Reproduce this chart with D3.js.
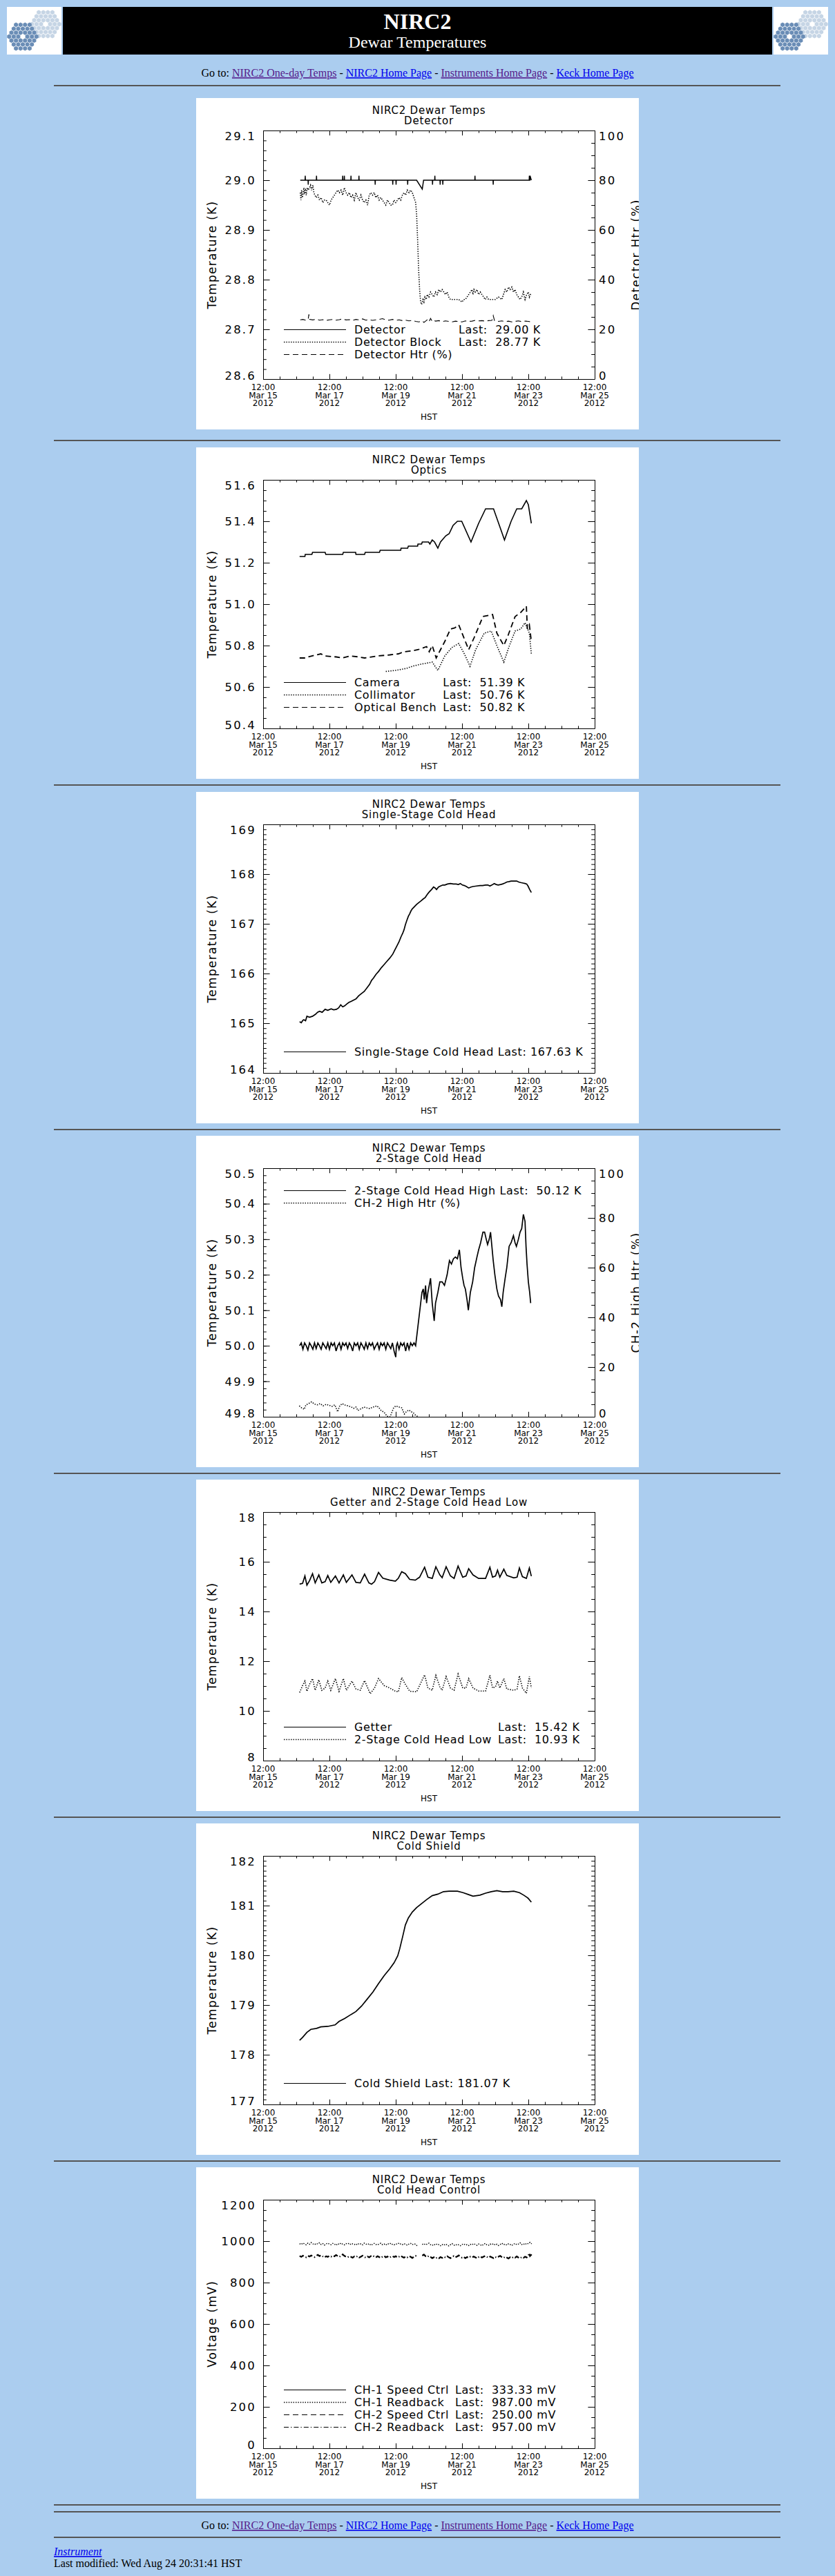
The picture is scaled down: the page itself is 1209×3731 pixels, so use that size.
<!DOCTYPE html>
<html><head><meta charset="utf-8">
<script src="https://cdn.jsdelivr.net/npm/d3@7"></script>
<style>html,body{margin:0;padding:0;background:#abcdef;}svg{display:block}</style>
</head><body>
<svg id="page" width="1209" height="3731"></svg>
<script>
// ---------------- DATA ----------------
// time in days after 12:00 Mar 15 2012 (HST)
const xMajorDays = [0, 2, 4, 6, 8, 10];
const xTickTimes = ["12:00","12:00","12:00","12:00","12:00","12:00"];
const xTickDates = ["Mar 15","Mar 17","Mar 19","Mar 21","Mar 23","Mar 25"];
const xTickYears = ["2012","2012","2012","2012","2012","2012"];
const chartSubtitles = ["Detector","Optics","Single-Stage Cold Head","2-Stage Cold Head","Getter and 2-Stage Cold Head Low","Cold Shield","Cold Head Control"];
const navLinks = ["NIRC2 One-day Temps","NIRC2 Home Page","Instruments Home Page","Keck Home Page"];

// Chart 1: Detector
const detector = [[1.12,29.0],[1.265,29.0],[1.27,29.009],[1.275,29.0],[1.355,29.0],[1.36,28.991],[1.365,29.0],[1.605,29.0],[1.61,29.009],[1.615,29.0],[2.395,29.0],[2.40,29.009],[2.405,29.0],[2.445,29.0],[2.45,29.009],[2.455,29.0],[2.645,29.0],[2.65,29.009],[2.655,29.0],[2.885,29.0],[2.89,29.009],[2.895,29.0],[3.375,29.0],[3.38,28.991],[3.385,29.0],[3.905,29.0],[3.91,28.991],[3.915,29.0],[4.005,29.0],[4.01,28.991],[4.015,29.0],[4.355,29.0],[4.36,28.991],[4.365,29.0],[4.63,29.0],[4.80,28.982],[4.84,29.0],[5.105,29.0],[5.11,28.991],[5.115,29.0],[5.175,29.0],[5.18,29.009],[5.185,29.0],[5.335,29.0],[5.34,28.991],[5.345,29.0],[5.415,29.0],[5.42,28.991],[5.425,29.0],[6.385,29.0],[6.39,29.009],[6.395,29.0],[6.935,29.0],[6.94,28.991],[6.945,29.0],[8.025,29.0],[8.03,29.009],[8.035,29.0],[8.045,29.0],[8.05,29.009],[8.09,29.0]];
const detectorBlock = [[1.12,28.975],[1.14,28.96],[1.16,28.98],[1.18,28.965],[1.2,28.97],[1.23,28.985],[1.25,28.975],[1.28,28.98],[1.3,28.97],[1.33,28.985],[1.36,28.98],[1.4,28.985],[1.43,28.99],[1.46,28.98],[1.5,28.99],[1.53,28.975],[1.56,28.97],[1.6,28.965],[1.65,28.97],[1.7,28.96],[1.75,28.965],[1.8,28.955],[1.85,28.96],[1.9,28.96],[1.95,28.955],[2.0,28.95],[2.05,28.96],[2.1,28.965],[2.15,28.97],[2.2,28.975],[2.25,28.98],[2.3,28.975],[2.35,28.98],[2.4,28.97],[2.45,28.985],[2.5,28.975],[2.55,28.97],[2.6,28.975],[2.65,28.965],[2.7,28.97],[2.75,28.96],[2.8,28.975],[2.85,28.965],[2.9,28.96],[2.95,28.97],[3.0,28.96],[3.05,28.955],[3.1,28.96],[3.15,28.95],[3.2,28.97],[3.25,28.975],[3.3,28.97],[3.35,28.975],[3.4,28.965],[3.45,28.97],[3.5,28.96],[3.55,28.965],[3.6,28.96],[3.65,28.955],[3.7,28.95],[3.75,28.96],[3.8,28.955],[3.85,28.95],[3.9,28.95],[3.95,28.96],[4.0,28.955],[4.05,28.96],[4.1,28.965],[4.15,28.96],[4.2,28.97],[4.25,28.975],[4.3,28.97],[4.35,28.98],[4.4,28.975],[4.45,28.98],[4.5,28.975],[4.55,28.965],[4.6,28.955],[4.63,28.93],[4.66,28.88],[4.69,28.82],[4.72,28.78],[4.75,28.755],[4.78,28.75],[4.82,28.76],[4.85,28.755],[4.88,28.765],[4.92,28.76],[4.95,28.77],[5.0,28.765],[5.05,28.775],[5.1,28.77],[5.15,28.765],[5.2,28.775],[5.25,28.77],[5.3,28.78],[5.35,28.775],[5.4,28.78],[5.45,28.775],[5.5,28.77],[5.55,28.775],[5.6,28.765],[5.65,28.76],[5.7,28.76],[5.8,28.76],[5.9,28.76],[6.0,28.755],[6.05,28.76],[6.1,28.76],[6.15,28.765],[6.2,28.77],[6.25,28.775],[6.3,28.78],[6.33,28.77],[6.36,28.78],[6.4,28.775],[6.45,28.78],[6.5,28.77],[6.55,28.775],[6.6,28.77],[6.65,28.765],[6.7,28.76],[6.75,28.765],[6.8,28.76],[6.9,28.76],[7.0,28.76],[7.1,28.765],[7.2,28.76],[7.25,28.77],[7.3,28.78],[7.35,28.775],[7.4,28.785],[7.45,28.78],[7.5,28.785],[7.55,28.775],[7.6,28.78],[7.65,28.77],[7.7,28.765],[7.75,28.76],[7.8,28.765],[7.85,28.775],[7.9,28.76],[7.95,28.77],[8.0,28.775],[8.03,28.765],[8.06,28.77],[8.09,28.77]];
const detectorHtr = [[1.12,23.8],[1.2,24.0],[1.3,23.6],[1.36,24.2],[1.38,26.0],[1.40,24.0],[1.5,23.8],[1.6,24.1],[1.7,23.7],[1.8,23.9],[1.9,23.6],[2.0,23.8],[2.1,24.0],[2.2,23.7],[2.3,23.9],[2.4,24.2],[2.5,23.8],[2.6,23.9],[2.7,23.6],[2.8,24.0],[2.9,23.8],[3.0,24.2],[3.1,23.7],[3.2,23.9],[3.3,23.6],[3.4,23.8],[3.5,24.0],[3.6,24.3],[3.7,23.8],[3.8,23.7],[3.9,24.0],[4.0,23.6],[4.1,23.8],[4.2,23.5],[4.3,23.7],[4.4,23.4],[4.5,23.6],[4.6,23.2],[4.7,23.0],[4.8,23.4],[4.85,22.8],[4.9,23.3],[4.95,23.8],[5.0,23.0],[5.05,24.4],[5.1,23.2],[5.15,23.6],[5.2,23.3],[5.3,23.5],[5.4,23.1],[5.5,23.4],[5.6,23.2],[5.7,23.0],[5.8,23.3],[5.9,23.1],[6.0,23.0],[6.1,23.4],[6.2,23.2],[6.3,23.3],[6.4,23.6],[6.5,23.4],[6.6,23.5],[6.7,23.3],[6.8,23.5],[6.9,23.6],[6.94,25.5],[6.98,23.5],[7.1,23.2],[7.2,23.4],[7.3,23.1],[7.4,23.3],[7.5,23.0],[7.6,23.2],[7.7,23.4],[7.8,23.1],[7.9,23.3],[8.0,23.2],[8.09,23.0]];

// Chart 2: Optics
const camera = [[1.10,51.23],[1.26,51.23],[1.27,51.24],[1.47,51.24],[1.49,51.25],[1.87,51.25],[1.89,51.24],[2.40,51.24],[2.42,51.25],[2.79,51.25],[2.80,51.24],[3.06,51.24],[3.08,51.25],[3.51,51.25],[3.53,51.26],[4.15,51.26],[4.16,51.27],[4.36,51.27],[4.38,51.28],[4.66,51.28],[4.67,51.29],[4.78,51.29],[4.80,51.30],[4.99,51.30],[5.03,51.29],[5.10,51.31],[5.17,51.30],[5.27,51.27],[5.35,51.30],[5.51,51.33],[5.61,51.34],[5.73,51.38],[5.86,51.40],[5.99,51.40],[6.27,51.30],[6.50,51.39],[6.71,51.46],[6.95,51.46],[7.28,51.31],[7.48,51.40],[7.65,51.46],[7.80,51.46],[7.94,51.50],[8.00,51.48],[8.09,51.39]];
const collimator = [[3.70,50.675],[3.99,50.68],[4.33,50.69],[4.50,50.70],[4.76,50.71],[5.10,50.72],[5.27,50.68],[5.48,50.75],[5.69,50.79],[5.90,50.81],[6.07,50.76],[6.24,50.70],[6.41,50.78],[6.67,50.86],[6.88,50.87],[7.05,50.80],[7.26,50.72],[7.43,50.80],[7.60,50.87],[7.77,50.88],[7.90,50.91],[8.03,50.86],[8.09,50.76]];
const opticalBench = [[1.10,50.74],[1.27,50.74],[1.36,50.745],[1.61,50.755],[1.74,50.76],[1.87,50.75],[2.21,50.745],[2.38,50.74],[2.63,50.75],[2.89,50.745],[3.06,50.74],[3.48,50.75],[3.82,50.755],[4.08,50.76],[4.25,50.77],[4.50,50.775],[4.67,50.78],[4.93,50.795],[5.01,50.77],[5.10,50.80],[5.22,50.74],[5.35,50.78],[5.48,50.82],[5.65,50.88],[5.78,50.885],[5.90,50.90],[6.20,50.78],[6.37,50.84],[6.63,50.94],[6.92,50.95],[7.05,50.86],[7.26,50.80],[7.39,50.85],[7.60,50.94],[7.77,50.96],[7.94,50.99],[7.97,50.88],[8.03,50.90],[8.09,50.82]];

// Chart 3: Single-stage cold head
const singleStage = [[1.10,165.03],[1.15,165.01],[1.20,165.06],[1.23,165.07],[1.28,165.05],[1.32,165.14],[1.40,165.12],[1.49,165.14],[1.58,165.18],[1.64,165.22],[1.70,165.24],[1.78,165.22],[1.87,165.28],[1.95,165.26],[2.05,165.29],[2.13,165.27],[2.21,165.28],[2.28,165.31],[2.34,165.37],[2.40,165.33],[2.46,165.35],[2.53,165.39],[2.59,165.42],[2.66,165.44],[2.74,165.47],[2.80,165.49],[2.88,165.55],[2.97,165.6],[3.05,165.64],[3.14,165.72],[3.21,165.78],[3.27,165.86],[3.33,165.91],[3.40,165.98],[3.48,166.04],[3.57,166.12],[3.65,166.18],[3.74,166.25],[3.82,166.31],[3.91,166.39],[3.97,166.47],[4.04,166.56],[4.10,166.64],[4.16,166.74],[4.21,166.81],[4.25,166.88],[4.29,166.98],[4.33,167.06],[4.38,167.15],[4.42,167.2],[4.46,167.26],[4.50,167.3],[4.57,167.35],[4.63,167.39],[4.70,167.43],[4.76,167.46],[4.83,167.5],[4.89,167.53],[4.95,167.59],[5.01,167.64],[5.08,167.69],[5.14,167.74],[5.19,167.72],[5.23,167.69],[5.29,167.74],[5.35,167.76],[5.42,167.78],[5.48,167.78],[5.56,167.8],[5.65,167.81],[5.74,167.8],[5.82,167.8],[5.89,167.79],[5.95,167.81],[6.01,167.78],[6.07,167.77],[6.13,167.75],[6.20,167.72],[6.27,167.74],[6.33,167.75],[6.44,167.76],[6.54,167.77],[6.62,167.77],[6.71,167.78],[6.78,167.78],[6.84,167.76],[6.90,167.78],[6.97,167.81],[7.03,167.79],[7.09,167.78],[7.16,167.79],[7.22,167.8],[7.29,167.82],[7.35,167.84],[7.42,167.85],[7.48,167.86],[7.56,167.86],[7.65,167.86],[7.71,167.84],[7.77,167.83],[7.84,167.82],[7.90,167.81],[7.95,167.80],[7.99,167.76],[8.04,167.69],[8.09,167.63]];

// Chart 4: 2-stage cold head high + heater
const twoStageHigh = [[1.10,50.0],[1.15,50.008],[1.20,49.99],[1.25,50.008],[1.30,50.0],[1.35,49.988],[1.40,50.008],[1.45,50.0],[1.50,49.99],[1.55,50.008],[1.60,49.992],[1.65,50.008],[1.70,50.0],[1.75,49.99],[1.80,50.008],[1.85,50.0],[1.90,49.992],[1.95,50.008],[2.00,49.99],[2.05,50.008],[2.10,50.0],[2.15,50.008],[2.20,49.985],[2.25,50.0],[2.30,50.008],[2.35,49.99],[2.40,50.008],[2.45,50.0],[2.50,50.008],[2.55,49.992],[2.60,50.008],[2.65,50.0],[2.70,49.985],[2.75,50.008],[2.80,50.0],[2.85,50.008],[2.90,49.99],[2.95,50.008],[3.00,50.0],[3.05,49.99],[3.10,50.008],[3.15,49.992],[3.20,50.008],[3.25,50.0],[3.30,50.008],[3.35,49.99],[3.40,50.0],[3.45,50.008],[3.50,49.99],[3.55,50.008],[3.60,50.0],[3.65,50.008],[3.70,49.99],[3.75,50.008],[3.80,50.0],[3.85,49.992],[3.90,50.008],[3.95,49.985],[4.00,49.968],[4.02,50.0],[4.05,50.008],[4.10,49.99],[4.15,50.008],[4.20,50.0],[4.25,50.008],[4.30,49.985],[4.35,50.008],[4.40,49.99],[4.45,50.008],[4.50,50.0],[4.55,50.008],[4.60,50.0],[4.79,50.15],[4.83,50.16],[4.86,50.13],[4.90,50.17],[4.93,50.12],[4.97,50.15],[5.05,50.19],[5.10,50.12],[5.16,50.07],[5.20,50.12],[5.27,50.15],[5.33,50.18],[5.40,50.18],[5.47,50.17],[5.55,50.20],[5.62,50.24],[5.68,50.23],[5.74,50.245],[5.80,50.25],[5.86,50.245],[5.92,50.27],[5.97,50.22],[6.02,50.19],[6.06,50.17],[6.10,50.16],[6.15,50.13],[6.19,50.10],[6.25,50.15],[6.32,50.18],[6.38,50.22],[6.45,50.25],[6.50,50.27],[6.56,50.29],[6.63,50.32],[6.68,50.32],[6.73,50.30],[6.77,50.285],[6.82,50.30],[6.86,50.32],[6.90,50.28],[6.94,50.24],[6.99,50.20],[7.05,50.16],[7.10,50.14],[7.16,50.13],[7.20,50.11],[7.24,50.15],[7.30,50.19],[7.35,50.22],[7.42,50.28],[7.48,50.29],[7.55,50.31],[7.60,50.29],[7.64,50.28],[7.70,50.30],[7.75,50.32],[7.80,50.33],[7.85,50.37],[7.90,50.35],[7.93,50.28],[7.96,50.23],[8.00,50.18],[8.04,50.15],[8.07,50.12]];
const ch2HighHtr = [[1.09,4.4],[1.16,3.6],[1.24,3.0],[1.29,4.8],[1.36,5.2],[1.46,6.0],[1.55,5.1],[1.64,4.8],[1.72,5.3],[1.81,4.4],[1.90,5.0],[1.99,4.6],[2.08,4.2],[2.16,4.8],[2.25,2.0],[2.30,4.1],[2.38,5.3],[2.47,4.7],[2.56,4.4],[2.65,4.0],[2.73,3.4],[2.80,3.9],[2.86,2.5],[2.95,3.2],[3.04,3.9],[3.12,3.6],[3.21,3.3],[3.30,3.8],[3.43,4.4],[3.50,3.5],[3.56,2.5],[3.65,1.8],[3.74,0.2],[3.83,0.0],[3.93,3.4],[4.00,4.4],[4.08,4.0],[4.18,3.6],[4.26,1.1],[4.33,2.2],[4.40,2.7],[4.47,2.0],[4.53,1.6],[4.61,0.4],[4.70,0.0]];

// Chart 5: Getter and 2-stage cold head low
const getter = [[1.10,15.1],[1.19,15.13],[1.26,15.43],[1.32,15.06],[1.40,15.24],[1.49,15.52],[1.57,15.15],[1.68,15.47],[1.77,15.15],[1.87,15.2],[1.95,15.45],[2.04,15.17],[2.18,15.43],[2.29,15.15],[2.42,15.47],[2.51,15.17],[2.68,15.47],[2.80,15.17],[2.93,15.15],[3.06,15.5],[3.19,15.15],[3.27,15.1],[3.36,15.2],[3.48,15.57],[3.61,15.34],[3.82,15.26],[3.99,15.22],[4.08,15.34],[4.18,15.6],[4.29,15.52],[4.42,15.29],[4.59,15.26],[4.72,15.38],[4.87,15.78],[4.97,15.38],[5.10,15.33],[5.21,15.8],[5.33,15.47],[5.40,15.36],[5.52,15.8],[5.65,15.43],[5.76,15.33],[5.88,15.83],[6.02,15.38],[6.12,15.43],[6.20,15.72],[6.33,15.47],[6.50,15.33],[6.71,15.33],[6.84,15.78],[6.92,15.38],[7.01,15.43],[7.07,15.66],[7.14,15.38],[7.26,15.7],[7.35,15.45],[7.56,15.35],[7.66,15.38],[7.73,15.75],[7.82,15.4],[7.94,15.33],[8.03,15.75],[8.09,15.42]];
const twoStageLow = [[1.10,10.74],[1.19,11.02],[1.26,11.2],[1.32,10.79],[1.40,11.07],[1.49,11.3],[1.57,10.83],[1.68,11.25],[1.77,10.83],[1.87,10.92],[1.95,11.2],[2.04,10.83],[2.18,11.3],[2.29,10.79],[2.42,11.3],[2.51,10.83],[2.68,11.2],[2.80,10.88],[2.93,10.83],[3.06,11.22],[3.23,10.69],[3.36,10.92],[3.48,11.3],[3.65,11.02],[3.82,10.92],[3.99,10.79],[4.08,10.77],[4.18,11.34],[4.29,11.07],[4.42,10.79],[4.63,10.77],[4.87,11.45],[4.97,10.92],[5.10,10.83],[5.21,11.43],[5.33,10.97],[5.40,10.83],[5.52,11.38],[5.65,10.92],[5.76,10.83],[5.88,11.48],[6.02,10.92],[6.12,10.92],[6.20,11.3],[6.33,10.92],[6.50,10.8],[6.71,10.8],[6.84,11.43],[6.92,10.92],[7.01,10.97],[7.07,11.2],[7.14,10.92],[7.26,11.3],[7.35,10.88],[7.56,10.83],[7.66,10.88],[7.73,11.41],[7.82,10.92],[7.94,10.71],[8.03,11.38],[8.09,10.93]];

// Chart 6: Cold shield
const coldShield = [[1.10,178.29],[1.19,178.35],[1.32,178.45],[1.44,178.51],[1.61,178.53],[1.74,178.56],[1.95,178.57],[2.17,178.6],[2.29,178.67],[2.46,178.73],[2.63,178.8],[2.80,178.87],[2.97,178.98],[3.14,179.12],[3.31,179.26],[3.48,179.43],[3.65,179.59],[3.82,179.73],[3.95,179.85],[4.06,179.99],[4.12,180.13],[4.21,180.38],[4.29,180.61],[4.38,180.75],[4.50,180.87],[4.63,180.96],[4.76,181.03],[4.93,181.12],[5.10,181.2],[5.27,181.23],[5.44,181.28],[5.61,181.29],[5.86,181.29],[6.03,181.26],[6.20,181.22],[6.33,181.19],[6.54,181.21],[6.71,181.25],[6.88,181.28],[7.05,181.3],[7.22,181.28],[7.39,181.28],[7.56,181.29],[7.73,181.26],[7.86,181.21],[7.99,181.15],[8.09,181.07]];

// Chart 7: Cold head control (null = data gap)
const ch1Readback = [[1.10,988],[1.15,984],[1.20,991],[1.25,986],[1.30,982],[1.35,990],[1.40,985],[1.45,993],[1.50,987],[1.55,983],[1.60,989],[1.65,986],[1.70,992],[1.75,984],[1.80,988],[1.85,981],[1.90,987],[1.95,990],[2.00,985],[2.05,983],[2.10,989],[2.15,986],[2.20,980],[2.25,988],[2.30,984],[2.35,991],[2.40,985],[2.45,982],[2.50,988],[2.55,986],[2.60,990],[2.65,983],[2.70,987],[2.75,985],[2.80,981],[2.85,989],[2.90,984],[2.95,987],[3.00,982],[3.05,990],[3.10,986],[3.15,983],[3.20,988],[3.25,980],[3.30,985],[3.35,989],[3.40,984],[3.45,982],[3.50,987],[3.55,990],[3.60,983],[3.65,986],[3.70,981],[3.75,988],[3.80,985],[3.85,990],[3.90,984],[3.95,982],[4.00,987],[4.05,985],[4.10,991],[4.15,986],[4.20,983],[4.25,988],[4.30,984],[4.35,980],[4.40,986],[4.45,989],[4.50,983],[4.55,987],[4.60,985],[4.65,976],[4.72,null],[4.80,984],[4.85,988],[4.90,982],[4.95,986],[5.00,990],[5.05,983],[5.10,979],[5.15,985],[5.20,981],[5.25,987],[5.30,983],[5.35,978],[5.40,984],[5.45,980],[5.50,986],[5.55,982],[5.60,977],[5.65,983],[5.70,988],[5.75,981],[5.80,979],[5.85,985],[5.90,982],[5.95,978],[6.00,984],[6.05,987],[6.10,981],[6.15,983],[6.20,979],[6.25,985],[6.30,982],[6.35,988],[6.40,984],[6.45,980],[6.50,986],[6.55,983],[6.60,978],[6.65,985],[6.70,989],[6.75,982],[6.80,980],[6.85,986],[6.90,983],[6.95,988],[7.00,981],[7.05,985],[7.10,979],[7.15,984],[7.20,990],[7.25,983],[7.30,986],[7.35,981],[7.40,987],[7.45,984],[7.50,979],[7.55,985],[7.60,989],[7.65,983],[7.70,986],[7.75,992],[7.80,984],[7.85,988],[7.90,983],[7.95,990],[8.00,987],[8.05,994],[8.10,987]];
const ch2Readback = [[1.10,928],[1.15,924],[1.20,930],[1.25,925],[1.30,922],[1.35,929],[1.40,926],[1.45,931],[1.50,927],[1.55,923],[1.60,929],[1.65,934],[1.70,928],[1.75,932],[1.80,926],[1.85,921],[1.90,927],[1.95,924],[2.00,929],[2.05,925],[2.10,930],[2.15,927],[2.20,933],[2.25,928],[2.30,924],[2.35,930],[2.40,936],[2.45,929],[2.50,925],[2.55,922],[2.60,927],[2.65,924],[2.70,920],[2.75,926],[2.80,923],[2.85,928],[2.90,921],[2.95,925],[3.00,930],[3.05,924],[3.10,920],[3.15,926],[3.20,922],[3.25,928],[3.30,931],[3.35,925],[3.40,921],[3.45,927],[3.50,923],[3.55,919],[3.60,925],[3.65,929],[3.70,922],[3.75,926],[3.80,920],[3.85,924],[3.90,928],[3.95,923],[4.00,927],[4.05,921],[4.10,925],[4.15,930],[4.20,924],[4.25,920],[4.30,926],[4.35,922],[4.40,928],[4.45,924],[4.50,919],[4.55,925],[4.60,929],[4.65,923],[4.72,null],[4.80,930],[4.85,935],[4.90,927],[4.95,923],[5.00,929],[5.05,924],[5.10,918],[5.15,922],[5.20,916],[5.25,921],[5.30,917],[5.35,923],[5.40,919],[5.45,925],[5.50,921],[5.55,927],[5.60,922],[5.65,918],[5.70,924],[5.75,928],[5.80,922],[5.85,926],[5.90,931],[5.95,925],[6.00,920],[6.05,924],[6.10,918],[6.15,923],[6.20,919],[6.25,925],[6.30,921],[6.35,926],[6.40,922],[6.45,917],[6.50,923],[6.55,927],[6.60,921],[6.65,925],[6.70,929],[6.75,924],[6.80,920],[6.85,926],[6.90,922],[6.95,918],[7.00,924],[7.05,920],[7.10,925],[7.15,929],[7.20,923],[7.25,919],[7.30,925],[7.35,921],[7.40,916],[7.45,922],[7.50,918],[7.55,924],[7.60,920],[7.65,926],[7.70,921],[7.75,917],[7.80,923],[7.85,919],[7.90,925],[7.95,921],[8.00,930],[8.03,942],[8.05,928],[8.10,936]];

// y axes
const yTicks1 = [28.6,28.7,28.8,28.9,29.0,29.1];
const yTicks2 = [50.4,50.6,50.8,51.0,51.2,51.4,51.6];
const yTicks3 = [164,165,166,167,168,169];
const yTicks4 = [49.8,49.9,50.0,50.1,50.2,50.3,50.4,50.5];
const yTicks5 = [8,10,12,14,16,18];
const yTicks6 = [177,178,179,180,181,182];
const yTicks7 = [0,200,400,600,800,1000,1200];
const pctTicks = [0,20,40,60,80,100];

// ---------------- PAGE ----------------
const page = d3.select("#page");
const SERIF = "'Liberation Serif','Times New Roman',serif";
const SANS = "'DejaVu Sans',Verdana,sans-serif";
const DASH = {solid: null, dot: "1.4,2", dash: "8,5", dashdot: "7,3,1.4,3"};
page.append("rect").attr("width",1209).attr("height",3731).attr("fill","#abcdef");

// header
function drawLogo(x0, id) {
  const g = page.append("g").attr("transform", `translate(${x0},10)`);
  g.append("clipPath").attr("id", id).append("rect").attr("width", 79).attr("height", 69);
  const lg = g.append("g").attr("clip-path", `url(#${id})`);
  lg.append("rect").attr("width", 79).attr("height", 69).attr("fill", "#fff");
  const s = 3.8, cells = [];
  for (let q = -3; q <= 3; q++) for (let r = -3; r <= 3; r++) {
    if (Math.abs(q + r) > 3 || (q === 0 && r === 0)) continue;
    cells.push([Math.sqrt(3) * s * (q + r / 2), 1.5 * s * r]);
  }
  const hex = d3.range(6).map(i => [0.9 * s * Math.cos(Math.PI / 6 + i * Math.PI / 3), 0.9 * s * Math.sin(Math.PI / 6 + i * Math.PI / 3)]);
  [[56, 25, "#c6d5e5"], [23, 43, "#6a8db6"]].forEach(([cx, cy, col]) => {
    lg.append("g").selectAll("polygon").data(cells).join("polygon")
      .attr("points", d => hex.map(p => (d[0] + cx + p[0]).toFixed(2) + "," + (d[1] + cy + p[1]).toFixed(2)).join(" "))
      .attr("fill", col);
  });
}
drawLogo(10, "logoA");
drawLogo(1120, "logoB");
page.append("rect").attr("x", 91).attr("y", 10).attr("width", 1027).attr("height", 69).attr("fill", "#000");
page.append("text").attr("x", 604.5).attr("y", 42).attr("text-anchor", "middle").attr("font-family", SERIF)
  .attr("font-size", 32).attr("font-weight", "bold").attr("fill", "#fff").text("NIRC2");
page.append("text").attr("x", 604.5).attr("y", 69).attr("text-anchor", "middle").attr("font-family", SERIF)
  .attr("font-size", 24).attr("fill", "#fff").text("Dewar Temperatures");

function goTo(yb) {
  const t = page.append("text").attr("x", 604.5).attr("y", yb).attr("text-anchor", "middle")
    .attr("font-family", SERIF).attr("font-size", 16).attr("xml:space", "preserve").attr("fill", "#000");
  t.append("tspan").text("Go to: ");
  const cols = ["#551a8b", "#0000ee", "#551a8b", "#0000ee"];
  navLinks.forEach((l, i) => {
    if (i) t.append("tspan").attr("fill", "#000").text(" - ");
    t.append("tspan").attr("fill", cols[i]).attr("text-decoration", "underline").text(l);
  });
}
goTo(111);
const hrYs = [124, 638, 1137, 1636, 2134, 2632, 3130, 3628, 3638, 3675];
hrYs.forEach(y => page.append("rect").attr("x", 78).attr("y", y - 1).attr("width", 1052).attr("height", 2).attr("fill", "#555"));
goTo(3663);
page.append("text").attr("x", 78).attr("y", 3701).attr("font-family", SERIF).attr("font-size", 16)
  .attr("font-style", "italic").attr("fill", "#0000ee").attr("text-decoration", "underline").text("Instrument");
page.append("text").attr("x", 78).attr("y", 3718).attr("font-family", SERIF).attr("font-size", 16)
  .attr("fill", "#000").text("Last modified: Wed Aug 24 20:31:41 HST");

// ---------------- CHARTS ----------------
const L = 97, R = 577, T = 47, B = 407;
function drawChart(idx, top, cfg) {
  const g0 = page.append("g").attr("transform", `translate(284,${top})`);
  const cid = "chartclip" + idx;
  g0.append("clipPath").attr("id", cid).append("rect").attr("width", 641).attr("height", 480);
  const g = g0.append("g").attr("clip-path", `url(#${cid})`);
  g.append("rect").attr("width", 641).attr("height", 480).attr("fill", "#fff");
  const x = d3.scaleLinear().domain([0, 10]).range([L, R]);
  const y = d3.scaleLinear().domain(cfg.yDomain).range([B, T]);
  const yR = cfg.right ? d3.scaleLinear().domain(cfg.right.domain).range([B, T]) : null;

  // titles
  g.append("text").attr("x", (L + R) / 2).attr("y", 23).attr("text-anchor", "middle").attr("font-family", SANS)
    .attr("font-size", 15).attr("letter-spacing", 0.8).text("NIRC2 Dewar Temps");
  g.append("text").attr("x", (L + R) / 2).attr("y", 38).attr("text-anchor", "middle").attr("font-family", SANS)
    .attr("font-size", 15).attr("letter-spacing", 0.8).text(cfg.subtitle);

  // axes (ticks inward)
  const ax = (gen, tx, ty, vals, size, keepDomain) => {
    const a = g.append("g").attr("transform", `translate(${tx},${ty})`)
      .call(gen.tickValues(vals).tickSize(size).tickSizeOuter(0).tickFormat(""));
    a.selectAll("text").remove();
    if (!keepDomain) a.select(".domain").remove();
    a.selectAll("line,path").attr("stroke", "#000");
  };
  const xMinor = d3.range(0, 10.001, 0.5);
  ax(d3.axisBottom(x), 0, B, xMajorDays, -7.2, true);
  ax(d3.axisBottom(x), 0, B, xMinor, -3.6, false);
  ax(d3.axisTop(x), 0, T, xMajorDays, -7.2, true);
  ax(d3.axisTop(x), 0, T, xMinor, -3.6, false);
  const yMinor = d3.range(cfg.yDomain[0], cfg.yDomain[1] + cfg.yMinor / 2, cfg.yMinor);
  ax(d3.axisLeft(y), L, 0, cfg.yTicks, -9.6, true);
  ax(d3.axisLeft(y), L, 0, yMinor, -4.8, false);
  if (yR) {
    const rMinor = d3.range(cfg.right.domain[0], cfg.right.domain[1] + cfg.right.minor / 2, cfg.right.minor);
    ax(d3.axisRight(yR), R, 0, cfg.right.ticks, -9.6, true);
    ax(d3.axisRight(yR), R, 0, rMinor, -4.8, false);
  } else {
    ax(d3.axisRight(y), R, 0, cfg.yTicks, -9.6, true);
    ax(d3.axisRight(y), R, 0, yMinor, -4.8, false);
  }

  // x labels
  const xl = g.append("g").attr("font-family", SANS).attr("font-size", 12).attr("text-anchor", "middle");
  xMajorDays.forEach((d, i) => {
    const t = xl.append("text").attr("x", x(d));
    t.append("tspan").attr("x", x(d)).attr("y", B + 16).text(xTickTimes[i]);
    t.append("tspan").attr("x", x(d)).attr("y", B + 27.5).text(xTickDates[i]);
    t.append("tspan").attr("x", x(d)).attr("y", B + 38.5).text(xTickYears[i]);
  });
  xl.append("text").attr("x", (L + R) / 2).attr("y", 465.5).text("HST");

  // y labels
  const clampY = v => Math.max(T + 7.5, Math.min(B - 5.5, v)) + 6;
  const fmt = d3.format(cfg.yFmt);
  const yl = g.append("g").attr("font-family", SANS).attr("font-size", 16.5).attr("letter-spacing", 2.2);
  cfg.yTicks.forEach(v => yl.append("text").attr("x", L - 10).attr("y", clampY(y(v))).attr("text-anchor", "end").text(fmt(v)));
  if (yR) cfg.right.ticks.forEach(v => yl.append("text").attr("x", R + 6).attr("y", clampY(yR(v))).text(d3.format("d")(v)));

  // axis titles
  g.append("text").attr("transform", `translate(28.5,${(T + B) / 2}) rotate(-90)`).attr("text-anchor", "middle")
    .attr("font-family", SANS).attr("font-size", 17).attr("letter-spacing", 1.3).text(cfg.yLabel);
  if (yR) g.append("text").attr("transform", `translate(643,${(T + B) / 2}) rotate(-90)`).attr("text-anchor", "middle")
    .attr("font-family", SANS).attr("font-size", 17).attr("letter-spacing", 1.3).text(cfg.right.label);

  // series
  cfg.series.forEach(s => {
    const ys = s.right ? yR : y;
    const line = d3.line().defined(d => d[1] != null).x(d => x(d[0])).y(d => ys(d[1]));
    g.append("path").datum(s.data).attr("d", line).attr("fill", "none").attr("stroke", "#000")
      .attr("stroke-width", s.width || 1.4).attr("stroke-dasharray", DASH[s.dash]);
  });

  // legend
  const lg = g.append("g").attr("font-family", SANS).attr("font-size", 16).attr("letter-spacing", 0.6);
  const names = [];
  cfg.legend.items.forEach((it, i) => {
    const ly = cfg.legend.y0 + 18 * i;
    g.append("line").attr("x1", 127).attr("x2", 217).attr("y1", ly + 0.5).attr("y2", ly + 0.5)
      .attr("stroke", "#000").attr("stroke-width", it.dash === "dot" ? 1.4 : 1.2).attr("stroke-dasharray", DASH[it.dash]);
    names.push(lg.append("text").attr("x", 229).attr("y", ly + 5.5).attr("xml:space", "preserve").text(it.name));
  });
  const maxW = d3.max(names, n => n.node().getComputedTextLength());
  cfg.legend.items.forEach((it, i) => {
    if (!it.last) return;
    lg.append("text").attr("x", 229 + maxW + 9).attr("y", cfg.legend.y0 + 18 * i + 5.5)
      .attr("xml:space", "preserve").text(it.last);
  });
}

const chartTops = [142, 648, 1147, 1645, 2143, 2641, 3139];
const charts = [
  {subtitle: chartSubtitles[0], yDomain: [28.6, 29.1], yTicks: yTicks1, yMinor: 0.02, yFmt: ".1f", yLabel: "Temperature (K)",
   right: {domain: [0, 100], ticks: pctTicks, minor: 5, label: "Detector Htr (%)"},
   series: [{data: detectorHtr, dash: "dash", right: true, width: 1.1}, {data: detectorBlock, dash: "dot", width: 1.6}, {data: detector, dash: "solid", width: 1.5}],
   legend: {y0: 335, items: [{name: "Detector", last: "Last:  29.00 K", dash: "solid"}, {name: "Detector Block", last: "Last:  28.77 K", dash: "dot"}, {name: "Detector Htr (%)", dash: "dash"}]}},
  {subtitle: chartSubtitles[1], yDomain: [50.4, 51.6], yTicks: yTicks2, yMinor: 0.05, yFmt: ".1f", yLabel: "Temperature (K)",
   series: [{data: camera, dash: "solid", width: 1.6}, {data: collimator, dash: "dot", width: 1.6}, {data: opticalBench, dash: "dash", width: 1.8}],
   legend: {y0: 340, items: [{name: "Camera", last: "Last:  51.39 K", dash: "solid"}, {name: "Collimator", last: "Last:  50.76 K", dash: "dot"}, {name: "Optical Bench", last: "Last:  50.82 K", dash: "dash"}]}},
  {subtitle: chartSubtitles[2], yDomain: [164, 169], yTicks: yTicks3, yMinor: 0.1, yFmt: "d", yLabel: "Temperature (K)",
   series: [{data: singleStage, dash: "solid", width: 1.7}],
   legend: {y0: 376, items: [{name: "Single-Stage Cold Head Last: 167.63 K", dash: "solid"}]}},
  {subtitle: chartSubtitles[3], yDomain: [49.8, 50.5], yTicks: yTicks4, yMinor: 0.02, yFmt: ".1f", yLabel: "Temperature (K)",
   right: {domain: [0, 100], ticks: pctTicks, minor: 5, label: "CH-2 High Htr (%)"},
   series: [{data: ch2HighHtr, dash: "dot", right: true, width: 1.6}, {data: twoStageHigh, dash: "solid", width: 1.7}],
   legend: {y0: 79, items: [{name: "2-Stage Cold Head High Last:  50.12 K", dash: "solid"}, {name: "CH-2 High Htr (%)", dash: "dot"}]}},
  {subtitle: chartSubtitles[4], yDomain: [8, 18], yTicks: yTicks5, yMinor: 0.5, yFmt: "d", yLabel: "Temperature (K)",
   series: [{data: getter, dash: "solid", width: 1.7}, {data: twoStageLow, dash: "dot", width: 1.6}],
   legend: {y0: 358, items: [{name: "Getter", last: "Last:  15.42 K", dash: "solid"}, {name: "2-Stage Cold Head Low", last: "Last:  10.93 K", dash: "dot"}]}},
  {subtitle: chartSubtitles[5], yDomain: [177, 182], yTicks: yTicks6, yMinor: 0.1, yFmt: "d", yLabel: "Temperature (K)",
   series: [{data: coldShield, dash: "solid", width: 1.7}],
   legend: {y0: 376, items: [{name: "Cold Shield Last: 181.07 K", dash: "solid"}]}},
  {subtitle: chartSubtitles[6], yDomain: [0, 1200], yTicks: yTicks7, yMinor: 50, yFmt: "d", yLabel: "Voltage (mV)",
   series: [{data: ch1Readback, dash: "dot", width: 1.5}, {data: ch2Readback, dash: "dashdot", width: 2.2}],
   legend: {y0: 322, items: [{name: "CH-1 Speed Ctrl", last: "Last:  333.33 mV", dash: "solid"}, {name: "CH-1 Readback", last: "Last:  987.00 mV", dash: "dot"}, {name: "CH-2 Speed Ctrl", last: "Last:  250.00 mV", dash: "dash"}, {name: "CH-2 Readback", last: "Last:  957.00 mV", dash: "dashdot"}]}}
];
charts.forEach((c, i) => drawChart(i, chartTops[i], c));
</script>
</body></html>
